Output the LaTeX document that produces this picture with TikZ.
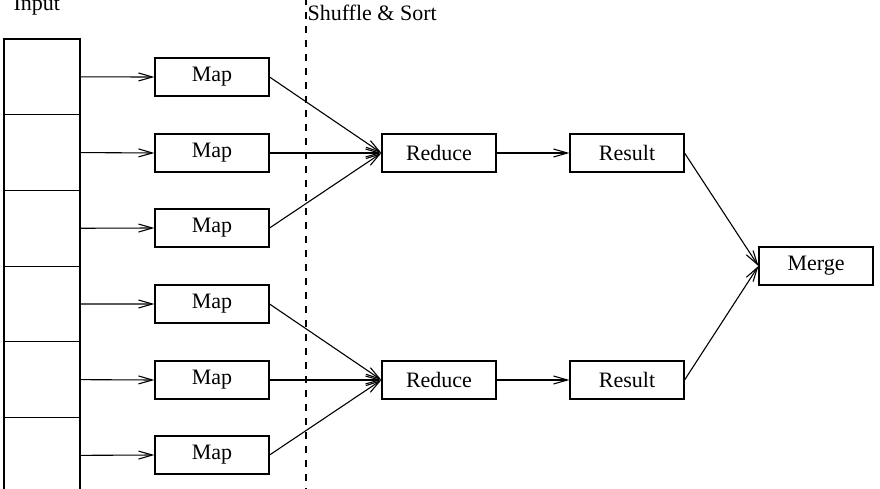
\documentclass[tikz,border=0pt]{standalone}
\usepackage{fontspec}
\setmainfont{Liberation Serif}
\usetikzlibrary{arrows.meta}
\begin{document}
\begin{tikzpicture}[x=1pt,y=-1pt,
  line width=1.1pt,
  font=\fontsize{22}{26}\selectfont,
  box/.style={draw, minimum width=114pt, minimum height=38pt, inner sep=0pt},
  cell/.style={draw, minimum width=76pt, minimum height=75.7pt, inner sep=0pt},
  arr/.style={-{Straight Barb[length=14pt,width=8pt,line width=1.1pt]}}]
\clip (0,0) rectangle (880,489);
\fill[white] (0,0) rectangle (880,489);
% input column
\foreach \i in {1,...,6} {
  \node[cell] (c\i) at (42,{39+75.7*(\i-0.5)}) {};
}
\node[anchor=base west, inner sep=0pt] (inp) at (13,11) {Input};
% dashed line
\coordinate (dtop) at (306,0);
\coordinate (dbot) at (306,489);
\draw[dash pattern=on 7pt off 7pt, dash phase=2pt] (dtop) -- (dbot);
\node[anchor=base west, inner sep=0pt] (shuf) at (307,21) {Shuffle \& Sort};
% maps
\foreach \i/\y in {1/77,2/153,3/228,4/304,5/380,6/455} {
  \node[box] (m\i) at (212,\y) {Map};
  \draw[arr] (c\i.east) -- (m\i.west);
}
\node[box] (r1) at (439,153) {Reduce};
\node[box] (r2) at (439,380) {Reduce};
\node[box] (s1) at (627,153) {Result};
\node[box] (s2) at (627,380) {Result};
\node[box] (mg) at (816,266) {Merge};
\foreach \i in {1,2,3} { \draw[arr] (m\i.east) -- (r1.west); }
\foreach \i in {4,5,6} { \draw[arr] (m\i.east) -- (r2.west); }
\draw[arr] (r1.east) -- (s1.west);
\draw[arr] (r2.east) -- (s2.west);
\draw[arr] (s1.east) -- (mg.west);
\draw[arr] (s2.east) -- (mg.west);
\end{tikzpicture}
\end{document}
